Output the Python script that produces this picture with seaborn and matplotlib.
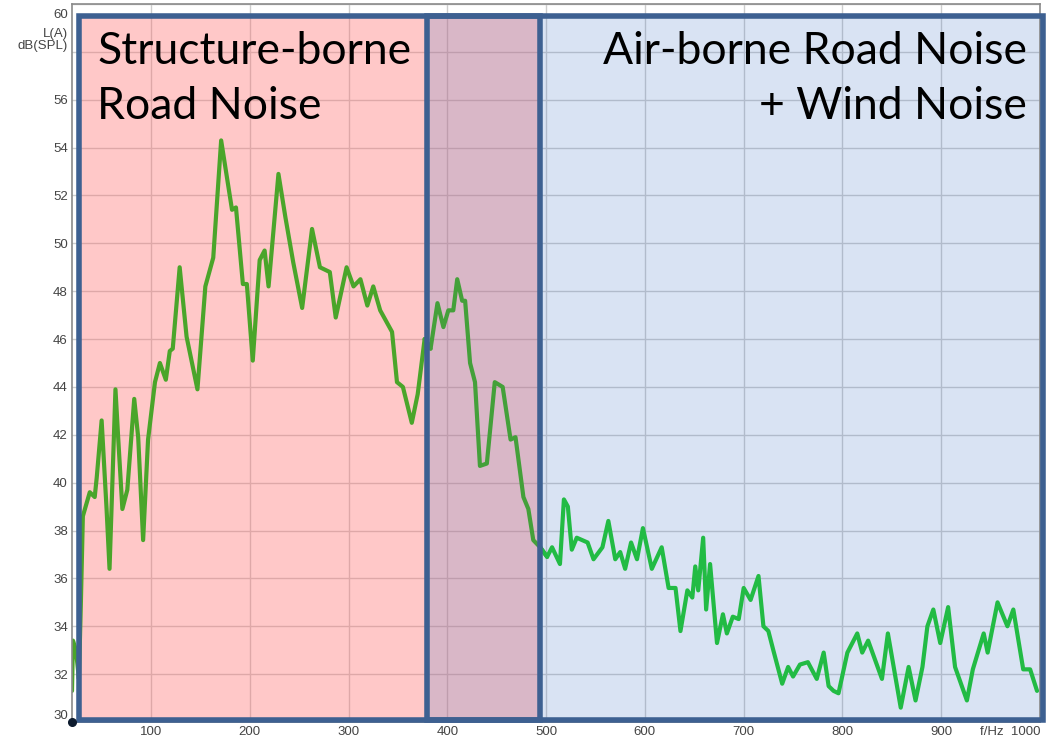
import numpy as np
import pandas as pd
import matplotlib
matplotlib.use("Agg")
import matplotlib.pyplot as plt
import seaborn as sns
from matplotlib.patches import Rectangle
from matplotlib.transforms import ScaledTranslation

# Spectrum (f in Hz, level in dB(A))
freq = [20, 21, 24, 27, 29, 31, 38, 43, 45, 50, 55, 58, 64, 67, 71, 76, 83, 87, 92, 97,
        104, 109, 115, 119, 122, 129, 136, 143, 147, 155, 163, 171, 182, 186, 193, 197,
        203, 210, 215, 219, 229, 236, 244, 253, 263, 271, 281, 287, 298, 305, 312, 319,
        325, 332, 344, 349, 355, 364, 370, 377, 383, 390, 396, 401, 406, 410, 415, 418,
        423, 428, 433, 440, 448, 456, 464, 469, 477, 482, 487, 494, 501, 506, 514, 518,
        522, 526, 531, 542, 548, 557, 563, 570, 575, 580, 586, 592, 598, 607, 617, 624,
        631, 636, 643, 648, 651, 654, 659, 662, 666, 673, 679, 683, 689, 695, 700, 707,
        715, 720, 725, 730, 739, 745, 750, 757, 765, 774, 781, 786, 791, 796, 805, 815,
        820, 826, 840, 846, 859, 867, 874, 881, 886, 892, 899, 907, 914, 926, 932, 943,
        947, 957, 967, 973, 983, 990, 997]
level = [31.3, 33.4, 33.0, 31.8, 35.0, 38.6, 39.6, 39.4, 40.2, 42.6, 38.9, 36.4, 43.9, 41.7,
         38.9, 39.7, 43.5, 41.9, 37.6, 41.8, 44.2, 45.0, 44.3, 45.5, 45.6, 49.0, 46.1, 44.7,
         43.9, 48.2, 49.4, 54.3, 51.4, 51.5, 48.3, 48.3, 45.1, 49.3, 49.7, 48.2, 52.9, 51.1,
         49.2, 47.3, 50.6, 49.0, 48.8, 46.9, 49.0, 48.2, 48.5, 47.4, 48.2, 47.2, 46.3, 44.2,
         44.0, 42.5, 43.7, 46.0, 45.6, 47.5, 46.5, 47.2, 47.2, 48.5, 47.6, 47.6, 45.0, 44.2,
         40.7, 40.8, 44.2, 44.0, 41.8, 41.9, 39.4, 38.9, 37.6, 37.3, 36.9, 37.3, 36.6, 39.3,
         39.0, 37.2, 37.7, 37.5, 36.8, 37.3, 38.4, 36.8, 37.1, 36.4, 37.5, 36.8, 38.1, 36.4,
         37.3, 35.6, 35.6, 33.8, 35.5, 35.2, 36.5, 35.5, 37.7, 34.7, 36.6, 33.3, 34.5, 33.7,
         34.4, 34.3, 35.6, 35.1, 36.1, 34.0, 33.8, 33.0, 31.6, 32.3, 31.9, 32.4, 32.5, 31.8,
         32.9, 31.5, 31.3, 31.2, 32.9, 33.7, 32.9, 33.4, 31.8, 33.7, 30.6, 32.3, 30.9, 32.3,
         34.0, 34.7, 33.3, 34.8, 32.3, 30.9, 32.2, 33.7, 32.9, 35.0, 34.0, 34.7, 32.2, 32.2,
         31.3]

# frequency bands marked on the chart
structure_band = (27, 494)
airborne_band = (379, 1003)
band_bottom, band_top = 30.1, 59.5

x_ticks = list(range(100, 1001, 100))
x_labels = [str(t) for t in x_ticks[:-1]] + ["f/Hz  1000"]
y_ticks = list(range(30, 61, 2))
y_labels = [str(t) for t in y_ticks]
y_labels[-2] = ""

df = pd.DataFrame({"f": freq, "L": level})

sns.set_theme(style="white")
plt.rcParams["font.family"] = ["Liberation Sans", "DejaVu Sans"]

fig = plt.figure(figsize=(10.56, 7.42), dpi=100)
ax = fig.add_axes([72 / 1056, 20 / 742, 968 / 1056, 718 / 742])
ax.set_xlim(20, 1000)
ax.set_ylim(30, 60)

ax.set_xticks(x_ticks)
ax.set_xticklabels(x_labels)
ax.set_yticks(y_ticks)
ax.set_yticklabels(y_labels)
ax.tick_params(length=0, labelsize=9.5, labelcolor="#444444")
ax.tick_params(axis="x", pad=3)
ax.tick_params(axis="y", pad=3)
ax.get_xticklabels()[-1].set_horizontalalignment("right")
ax.get_yticklabels()[0].set_verticalalignment("bottom")
top_lab = ax.get_yticklabels()[-1]
top_lab.set_verticalalignment("top")
top_lab.set_transform(top_lab.get_transform() + ScaledTranslation(0, -0.05, fig.dpi_scale_trans))
ax.grid(True, color="#cdcdcd", linewidth=1)
ax.set_axisbelow(True)
for s in ax.spines.values():
    s.set_color("#8a8a8a")
    s.set_linewidth(1.2)

# band fills
ax.add_patch(Rectangle((structure_band[0], band_bottom), structure_band[1] - structure_band[0],
                       band_top - band_bottom, facecolor=(1.0, 0.39, 0.39), alpha=0.35,
                       edgecolor="none", zorder=1, clip_on=False))
ax.add_patch(Rectangle((airborne_band[0], band_bottom), airborne_band[1] - airborne_band[0],
                       band_top - band_bottom, facecolor=(0.27, 0.45, 0.77), alpha=0.2,
                       edgecolor="none", zorder=1.1, clip_on=False))

# curve, coloured per band
m1 = df["f"] <= 383
m2 = (df["f"] >= 377) & (df["f"] <= 501)
m3 = df["f"] >= 494
sns.lineplot(data=df[m1], x="f", y="L", color="#4aa52a", linewidth=3, sort=False,
             estimator=None, ax=ax, zorder=2)
sns.lineplot(data=df[m2], x="f", y="L", color="#44a03a", linewidth=3, sort=False,
             estimator=None, ax=ax, zorder=2)
sns.lineplot(data=df[m3], x="f", y="L", color="#22bb44", linewidth=3, sort=False,
             estimator=None, ax=ax, zorder=2)
ax.set_xlabel("")
ax.set_ylabel("")

# band outlines
for band in (structure_band, airborne_band):
    ax.add_patch(Rectangle((band[0], band_bottom), band[1] - band[0], band_top - band_bottom,
                           facecolor="none", edgecolor="#3d6091", linewidth=4,
                           zorder=3, clip_on=False))

ax.plot([20], [30], "o", color="#0d1b2e", markersize=5.5, clip_on=False, zorder=5)

fig.text(68 / 1056, (742 - 40) / 742, "L(A)\ndB(SPL)", ha="right", va="center",
         fontsize=9.5, color="#444444", linespacing=1.05)

fig.text(97 / 1056, (742 - 31) / 742, "Structure-borne\nRoad Noise", ha="left", va="top",
         fontsize=32, family=["Lato", "DejaVu Sans"], color="black", linespacing=1.42)
fig.text(1027 / 1056, (742 - 31) / 742, "Air-borne Road Noise\n+ Wind Noise", ha="right",
         va="top", fontsize=32, family=["Lato", "DejaVu Sans"], color="black",
         linespacing=1.42, multialignment="right")

fig.savefig("out.png", dpi=100)
